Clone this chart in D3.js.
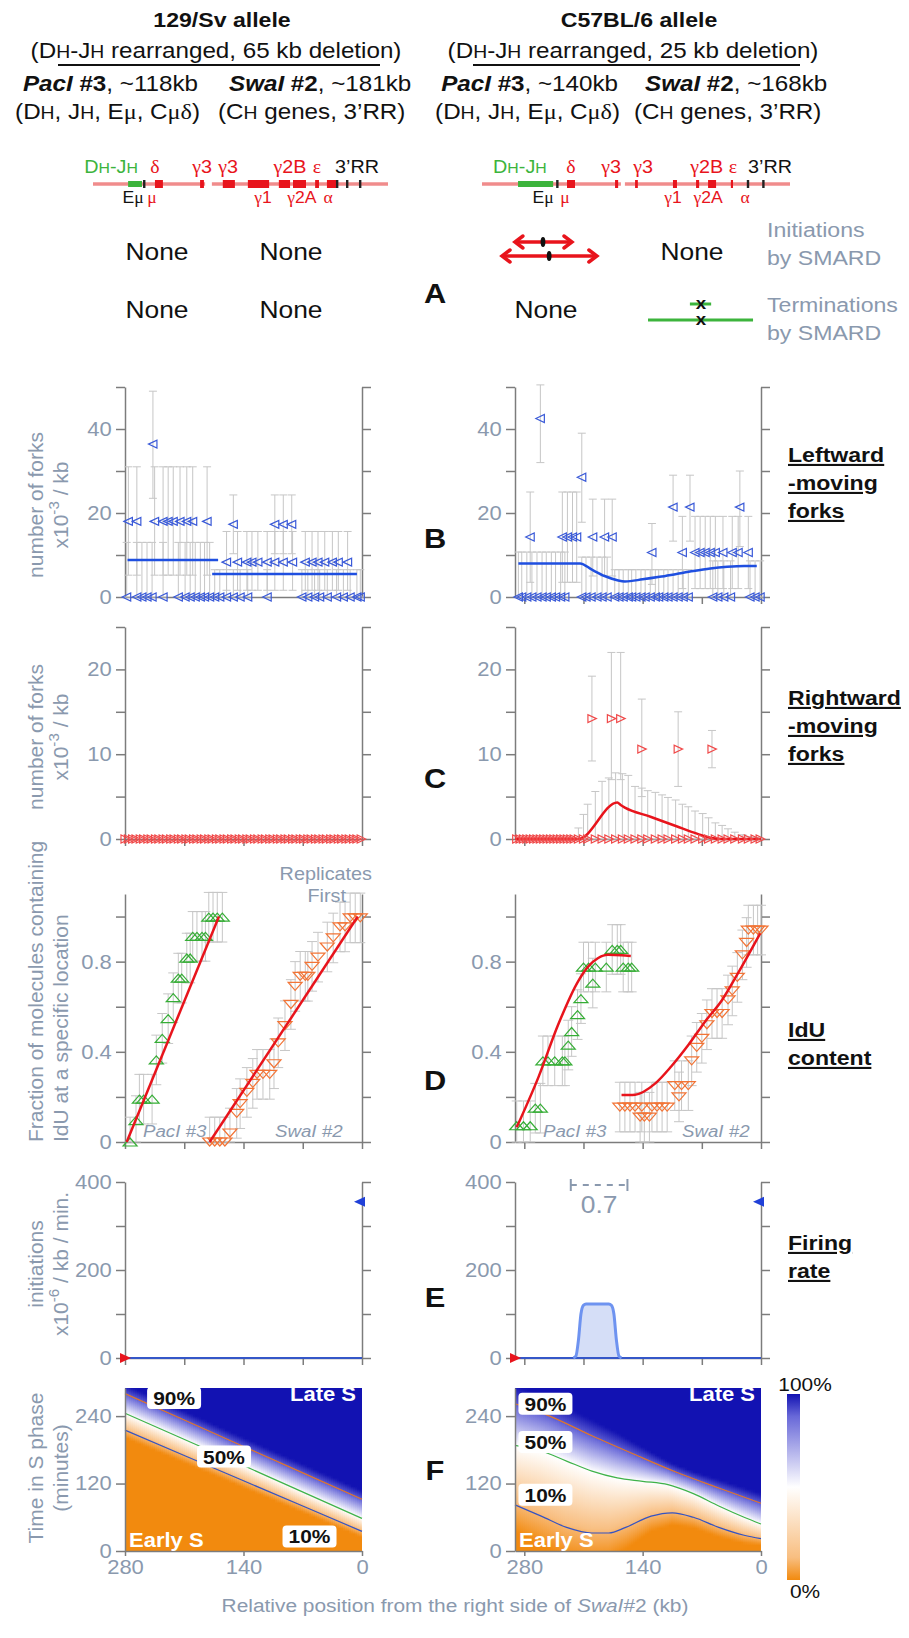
<!DOCTYPE html>
<html>
<head>
<meta charset="UTF-8" />
<title>SMARD replication profiles</title>
<style>
  body { margin: 0; background: #fff; }
  svg { display: block; }
</style>
</head>
<body>
<script src="https://cdn.jsdelivr.net/npm/d3@7/dist/d3.min.js"></script>
<script>
// ---------- data ----------
// x positions are kb from the right side of SwaI#2 (axis runs right to left)
var leftKbMax = 280, rightKbMax = 291;

// B: leftward-moving forks, groups of points sharing value and error bar
var bLeftGroups = [
  {v: 0,    lo: 0,    hi: 13,   kb: [278,266,260,254,248,235,217,209,203,197,191,186,180]},
  {v: 0,    lo: 0,    hi: 6.5,  kb: [174,168,160,152,144,135,112,71,64,56,50,41,30,22,14,6,2]},
  {v: 18,   lo: 5.2,  hi: 31,   kb: [276,266,245,235,229,223,215,207,200,183]},
  {v: 36.4, lo: 23.5, hi: 49,   kb: [247]},
  {v: 17.3, lo: 10.3, hi: 24.3, kb: [152,103,93,83]},
  {v: 8.3,  lo: 1.6,  hi: 15.6, kb: [160,147,136,130,123,112,103,93,82,67,59,52,44,35,28,17]}
];
var bLeftMean = [[[277,8.8],[170,8.8]], [[177,5.5],[6,5.5]]];

var bRightGroups = [
  {v: 42.5, lo: 32,   hi: 50.5, kb: [261]},
  {v: 14.3, lo: 3.5,  hi: 25,   kb: [273,235,229,223,218]},
  {v: 14.3, lo: 5,    hi: 23.3, kb: [199,185,176]},
  {v: 28.5, lo: 17.8, hi: 39,   kb: [212]},
  {v: 10.6, lo: 3,    hi: 17.5, kb: [129]},
  {v: 10.6, lo: 2,    hi: 19.2, kb: [93,78,72,66,60,54,45,34,27,15]},
  {v: 21.4, lo: 13.3, hi: 29,   kb: [104,84]},
  {v: 21.4, lo: 12,   hi: 30,   kb: [25]},
  {v: 0,    lo: 0,    hi: 10.7, kb: [287,283,277,271,265,259,254,248,243,237,232]},
  {v: 0,    lo: 0,    hi: 9.5,  kb: [212,207,201,194,188,182]},
  {v: 0,    lo: 0,    hi: 6.5,  kb: [173,168,163,157,153,148,142,137,131,125,121,115,110,104,98,92,86]},
  {v: 0,    lo: 0,    hi: 8.6,  kb: [57,51,44,36,13,7,1]}
];
var bRightMean = [[287,8.0],[214,8.0],[200,6.5],[185,5.0],[170,4.0],[161,3.7],[140,4.2],[120,4.8],[100,5.5],[80,6.2],[60,6.8],[40,7.2],[20,7.4],[5,7.4]];

// C: rightward-moving forks
var cLeftKb = [280,276,271,267,262,258,253,249,244,240,235,231,226,222,217,213,208,204,199,195,190,186,181,177,172,168,163,159,154,150,145,141,136,132,127,123,118,114,109,105,100,96,91,87,82,78,73,69,64,60,55,51,46,42,37,33,28,24,19,15,10,6,1];
var cRightGroups = [
  {v: 14.2, lo: 9.2, hi: 19.2, kb: [200]},
  {v: 14.2, lo: 7,   hi: 22,   kb: [177,166]},
  {v: 10.6, lo: 5,   hi: 16.5, kb: [141]},
  {v: 10.6, lo: 6.2, hi: 15,   kb: [98]},
  {v: 10.6, lo: 8.4, hi: 12.8, kb: [58]}
];
// zero-valued points: [kb, upper error]
var cRightZero = [[289,0],[285,0],[281,0],[277,0],[273,0],[269,0],[265,0],[261,0],[257,0],[253,0],[249,0],[245,0],[241,0],[237,0],[233,0],[229,0],[225,0],[221,0],
  [216,1.3],[210,2.9],[205,4.1],[196,5.6],[188,6.8],[180,7.2],[172,7.8],[164,7.7],[157,7.5],[149,6.2],[141,6.0],[134,5.7],[125,5.5],[117,5.2],[110,4.9],[101,4.6],
  [93,4.1],[86,3.8],[78,3.3],[69,3.0],[62,2.5],[54,1.9],[46,1.6],[39,1.2],[31,0.8],[22,0.5],[15,0.3],[7,0.2],[1,0.1]];
var cRightMean = [[291,0],[216,0],[170,4.3],[166,4.0],[161,3.7],[130,2.6],[100,1.5],[75,0.6],[60,0.15],[45,0],[0,0]];

// D: IdU content, [kb, fraction]
var dErr = 0.11;
var dLeftPac = [[274,0],[267,0.095],[263,0.19],[258,0.19],[248,0.19],[243,0.364],[236,0.46],[229,0.547],[223,0.64],[217,0.727],[213,0.727],[207,0.816],[203,0.816],[200,0.912],[195,0.912],[189,0.912],[185,0.912],[181,0.997],[176,0.997],[171,0.997],[165,0.997]];
var dLeftSwa = [[180,0],[174,0],[168,0],[162,0],[156,0.04],[148,0.127],[144,0.17],[136,0.22],[129,0.26],[124,0.30],[117,0.30],[109,0.30],[104,0.347],[99,0.44],[91,0.516],[84,0.61],[79,0.69],[73,0.735],[67,0.735],[64,0.735],[59,0.779],[52,0.82],[41,0.865],[34,0.905],[26,0.954],[20,0.954],[14,0.994],[8,0.994],[2,0.994]];
var dLeftFitPac = [[278,0],[169,1.0]];
var dLeftFitSwa = [[180,0],[5,1.0]];
var dRightPac = [[289,0.072],[281,0.072],[273,0.072],[267,0.15],[261,0.15],[258,0.36],[252,0.36],[244,0.36],[235,0.36],[232,0.36],[228,0.43],[224,0.49],[217,0.565],[213,0.636],[210,0.776],[204,0.776],[199,0.705],[196,0.776],[183,0.776],[176,0.854],[170,0.854],[166,0.854],[163,0.776],[157,0.776],[153,0.776]];
var dRightSwa = [[167,0.155],[161,0.155],[155,0.155],[149,0.155],[141,0.155],[143,0.11],[138,0.11],[132,0.11],[129,0.155],[123,0.155],[117,0.155],[111,0.155],[102,0.25],[94,0.25],[86,0.25],[97,0.2],[82,0.36],[76,0.42],[70,0.46],[64,0.52],[58,0.57],[52,0.57],[46,0.57],[39,0.63],[34,0.67],[28,0.73],[22,0.83],[17,0.885],[15,0.94],[9,0.94],[4,0.94],[0,0.94]];
var dRightFitPac = [[289,0.065],[263,0.29],[240,0.52],[216,0.715],[204,0.78],[193,0.815],[181,0.83],[165,0.828],[154,0.825]];
var dRightFitSwa = [[165,0.208],[149,0.21],[125,0.26],[106,0.336],[86,0.43],[66,0.535],[46,0.63],[27,0.75],[1,0.925]];

// E: firing rate (x10^-6 / kb / min)
var eLeftRate = [[280,0],[0,0]];
var eRightRate = [[291,0],[222,0],[219,4],[216,40],[213,100],[210,120],[207,123],[180,123],[177,120],[174,100],[171,40],[168,4],[165,0],[0,0]];
var eEndRate = 355;          // blue marker on right axis
var eInterval = [225, 158];  // dashed bracket above the peak
var eIntervalLabel = "0.7";

// F: replication-time contours, [kb, minutes]
var fLeft10 = [[280,215],[140,125],[0,35]];
var fLeft50 = [[280,245],[140,152],[0,58]];
var fLeft90 = [[280,280],[140,186],[0,92]];
var fRight10 = [[291,82],[260,62],[230,42],[200,32],[180,32],[160,42],[130,62],[105,68],[80,60],[50,42],[20,28],[0,22]];
var fRight50 = [[291,188],[260,178],[230,160],[200,142],[170,130],[140,124],[110,118],[80,102],[50,80],[20,60],[0,48]];
var fRight90 = [[291,262],[250,240],[200,205],[150,172],[100,140],[50,112],[0,85]];

// gene maps (0-100 map units)
var mapLeft = {
  line: [[0,38],[40.3,100]], green: [[11.9,16.6]],
  red: [[21,23.7],[36.3,37.6],[44,48.1],[52.5,59.7],[63,66.8],[67.8,72.2],[75.3,76.6],[79.3,82.4]],
  black: [17.3,82.7,86.1,90.5],
  above: [[6.1,"DH-JH"],[21,"δ"],[37,"γ3"],[45.8,"γ3"],[66.8,"γ2B"],[75.9,"ε"],[89.5,"3’RR"]],
  below: [[13.6,"Eμ"],[20,"μ"],[57.6,"γ1"],[70.8,"γ2A"],[79.7,"α"]]
};
var mapRight = {
  line: [[0,45.1],[46.4,100]], green: [[11.7,23.1]],
  red: [[27.6,30.2],[43.2,44.2],[49.7,50.6],[62,63.3],[69.5,70.5],[73.4,76],[80.8,81.5]],
  black: [24.4,86.3,91.3],
  above: [[12.3,"DH-JH"],[28.9,"δ"],[41.9,"γ3"],[52.3,"γ3"],[73,"γ2B"],[81.5,"ε"],[93.5,"3’RR"]],
  below: [[19.8,"Eμ"],[26.9,"μ"],[62,"γ1"],[73.4,"γ2A"],[85.4,"α"]]
};
// panel A (right allele): [from, to, origin] in map units
var initiations = [[10.7,29.2,19.8],[6.5,37.3,21.8]];
var terminations = [[67.5,74.4,71.1],[53.9,88,71.1]];

// ---------- drawing ----------
var FONT = '"Liberation Sans", Arial, sans-serif';
var SERIF = '"Liberation Serif", "Times New Roman", serif';
var GREY = "#8a99ae", AXIS = "#7c7c7c", RED = "#e8141c";
var SX = 1.1;

var svg = d3.select("body").append("svg").attr("width", 909).attr("height", 1638)
  .style("font-family", FONT);
var defs = svg.append("defs");

// text helper: parts = [[string, flags]], flags: b bold, i italic, n normal, s small, g serif, ^ superscript
function txt(g, x, y, parts, o) {
  o = o || {};
  var size = o.size || 20;
  var t = g.append("text")
    .attr("transform", "translate(" + x + "," + y + ")" + (o.rot ? " rotate(-90)" : " scale(" + SX + ",1)"))
    .attr("text-anchor", o.anchor || "middle")
    .style("font-size", size + "px")
    .style("fill", o.fill || "#111");
  if (o.bold) t.style("font-weight", "bold");
  if (o.italic) t.style("font-style", "italic");
  if (o.underline) t.style("text-decoration", "underline");
  if (typeof parts === "string") parts = [[parts]];
  var shift = 0;
  parts.forEach(function (p) {
    var s = t.append("tspan").text(p[0]);
    var f = p[1] || "";
    var target = f.indexOf("^") >= 0 ? -0.42 * size : 0;
    if (target - shift) s.attr("dy", target - shift);
    shift = target;
    if (f.indexOf("^") >= 0) s.style("font-size", "0.72em");
    if (f.indexOf("s") >= 0) s.style("font-size", "0.8em");
    if (f.indexOf("b") >= 0) s.style("font-weight", "bold");
    if (f.indexOf("n") >= 0) s.style("font-weight", "normal");
    if (f.indexOf("i") >= 0) s.style("font-style", "italic");
    if (f.indexOf("g") >= 0) s.style("font-family", SERIF);
    if (f.indexOf("r") >= 0) s.style("fill", RED);
    if (f.indexOf("k") >= 0) s.style("fill", "#111");
  });
  return t;
}

// ----- header -----
var hdr = svg.append("g");
function header(c) {
  txt(hdr, c.title[0], 27, c.title[1], {size: 21, bold: true});
  txt(hdr, c.sub[0], 58, [["(D"],["H","s"],["-J"],["H","s"],[" rearranged, " + c.sub[1] + " deletion)"]], {size: 22});
  hdr.append("line").attr("x1", c.rule[0]).attr("x2", c.rule[1]).attr("y1", 65).attr("y2", 65)
    .attr("stroke", "#111").attr("stroke-width", 2);
  txt(hdr, c.pac[0], 91, [["PacI","bi"],[" #3","b"],[", ~" + c.pac[1]]], {size: 22, anchor: "end"});
  txt(hdr, c.swa[0], 91, [["SwaI","bi"],[" #2","b"],[", ~" + c.swa[1]]], {size: 22, anchor: "start"});
  txt(hdr, c.pac[0] + 2, 119, [["(D"],["H","s"],[", J"],["H","s"],[", E"],["μ","g"],[", C"],["μδ","g"],[")"]], {size: 22, anchor: "end"});
  txt(hdr, c.swa[0] - 11, 119, [["(C"],["H","s"],[" genes, 3’RR)"]], {size: 22, anchor: "start"});
}
header({title: [222, "129/Sv allele"], sub: [216, "65 kb"], rule: [58, 380], pac: [198, "118kb"], swa: [229, "181kb"]});
header({title: [639, "C57BL/6 allele"], sub: [633, "25 kb"], rule: [473, 800], pac: [618, "140kb"], swa: [645, "168kb"]});

// ----- gene maps -----
function labelParts(str, colour) {
  if (str === "DH-JH") return [["D"],["H","s"],["-J"],["H","s"]];
  var parts = [];
  str.split("").forEach(function (ch) {
    var greek = /[α-ωμ]/.test(ch);
    var fl = (greek ? "g" : "") + (colour === "k" ? "k" : "r");
    if (parts.length && parts[parts.length - 1][1] === fl) parts[parts.length - 1][0] += ch;
    else parts.push([ch, fl]);
  });
  return parts;
}
function geneMap(range, m) {
  var s = d3.scaleLinear().domain([0, 100]).range(range);
  var g = svg.append("g");
  var ly = 184;
  m.line.forEach(function (d) {
    g.append("line").attr("x1", s(d[0])).attr("x2", s(d[1])).attr("y1", ly).attr("y2", ly)
      .attr("stroke", "#f08c8c").attr("stroke-width", 3.5);
  });
  g.selectAll("rect.gr").data(m.green).join("rect").attr("x", function (d) { return s(d[0]); })
    .attr("width", function (d) { return s(d[1]) - s(d[0]); }).attr("y", ly - 3).attr("height", 6).attr("fill", "#3cb43c");
  g.selectAll("rect.rd").data(m.red).join("rect").attr("x", function (d) { return s(d[0]); })
    .attr("width", function (d) { return Math.max(2, s(d[1]) - s(d[0])); }).attr("y", ly - 4).attr("height", 8).attr("fill", RED);
  g.selectAll("rect.bk").data(m.black).join("rect").attr("x", function (d) { return s(d) - 1; })
    .attr("width", 2.4).attr("y", ly - 4).attr("height", 8).attr("fill", "#222");
  m.above.forEach(function (d) {
    var col = d[1] === "DH-JH" ? "#3cb43c" : (d[1] === "3’RR" ? "#111" : RED);
    txt(g, s(d[0]), 173, labelParts(d[1], col === "#111" ? "k" : "r"), {size: 18, fill: col});
  });
  m.below.forEach(function (d) {
    var black = d[1] === "Eμ";
    txt(g, s(d[0]), 203, labelParts(d[1], black ? "k" : "r"), {size: 16, fill: black ? "#111" : RED});
  });
  return s;
}
geneMap([93, 388], mapLeft);
var mapR = geneMap([482, 790], mapRight);

// ----- panel A -----
var pa = svg.append("g");
txt(pa, 157, 260, "None", {size: 24});
txt(pa, 291, 260, "None", {size: 24});
txt(pa, 157, 318, "None", {size: 24});
txt(pa, 291, 318, "None", {size: 24});
txt(pa, 692, 260, "None", {size: 24});
txt(pa, 546, 318, "None", {size: 24});
txt(pa, 767, 237, "Initiations", {size: 21, anchor: "start", fill: GREY});
txt(pa, 767, 265, "by SMARD", {size: 21, anchor: "start", fill: GREY});
txt(pa, 767, 312, "Terminations", {size: 21, anchor: "start", fill: GREY});
txt(pa, 767, 340, "by SMARD", {size: 21, anchor: "start", fill: GREY});
initiations.forEach(function (d, i) {
  var yy = [242, 256][i], a = mapR(d[0]), b = mapR(d[1]);
  pa.append("line").attr("x1", a + 1).attr("x2", b - 1).attr("y1", yy).attr("y2", yy)
    .attr("stroke", RED).attr("stroke-width", 3.5);
  pa.append("path").attr("d", "M" + (a + 8) + "," + (yy - 6) + "L" + a + "," + yy + "L" + (a + 8) + "," + (yy + 6) +
    "M" + (b - 8) + "," + (yy - 6) + "L" + b + "," + yy + "L" + (b - 8) + "," + (yy + 6))
    .attr("fill", "none").attr("stroke", RED).attr("stroke-width", 3.5).attr("stroke-linecap", "round");
  pa.append("ellipse").attr("cx", mapR(d[2])).attr("cy", yy).attr("rx", 2.4).attr("ry", 5).attr("fill", "#111");
});
terminations.forEach(function (d, i) {
  var yy = [304, 320][i];
  pa.append("line").attr("x1", mapR(d[0])).attr("x2", mapR(d[1])).attr("y1", yy).attr("y2", yy)
    .attr("stroke", "#3cb43c").attr("stroke-width", 3);
  txt(pa, mapR(d[2]), yy + 5, "x", {size: 17, bold: true});
});

// ----- panel frames -----
var LX = [125, 362], RX = [515, 761];
var rows = {
  B: {y: [597, 387], max: 50, ticks: [0,10,20,30,40,50], labels: [0,20,40]},
  C: {y: [839, 627], max: 25, ticks: [0,5,10,15,20,25], labels: [0,10,20]},
  D: {y: [1142, 894], max: 1.1, ticks: [0,0.2,0.4,0.6,0.8,1], labels: [0,0.4,0.8]},
  E: {y: [1358, 1182], max: 400, ticks: [0,100,200,300,400], labels: [0,200,400]},
  F: {y: [1551, 1388], max: 290, ticks: [0,120,240], labels: [0,120,240]}
};
var xTicks = [280,210,140,70,0];

function frame(xr, kbMax, row, o) {
  return {
    g: svg.append("g"),
    x: d3.scaleLinear().domain([kbMax, 0]).range(xr),
    y: d3.scaleLinear().domain([0, row.max]).range(row.y),
    xr: xr, row: row, o: o || {}
  };
}
function styleAxis(a) {
  a.attr("font-family", null).attr("font-size", null);
  a.selectAll(".domain, .tick line").attr("stroke", AXIS).attr("stroke-width", 1.5);
  a.selectAll(".tick text").attr("fill", GREY).style("font-size", "20px").attr("transform", "scale(" + SX + ",1)");
}
function axes(p) {
  var g = p.g.append("g"), row = p.row, o = p.o;
  var la = g.append("g").attr("transform", "translate(" + p.xr[0] + ",0)")
    .call(d3.axisLeft(p.y).tickValues(row.ticks).tickSizeInner(9).tickSizeOuter(0).tickPadding(3)
      .tickFormat(function (d) { return row.labels.indexOf(d) >= 0 ? d : ""; }));
  styleAxis(la);
  if (!o.noRight) {
    var ra = g.append("g").attr("transform", "translate(" + p.xr[1] + ",0)")
      .call(d3.axisRight(p.y).tickValues(row.ticks).tickSizeInner(9).tickSizeOuter(0).tickFormat(""));
    styleAxis(ra);
  }
  var ba = g.append("g").attr("transform", "translate(0," + row.y[0] + ")")
    .call(d3.axisBottom(p.x).tickValues(o.xTicks || []).tickSizeInner(o.xLabels ? 5 : 7).tickSizeOuter(0).tickPadding(4)
      .tickFormat(function (d) { return o.xLabels ? d : ""; }));
  styleAxis(ba);
}

function expand(groups) {
  var out = [];
  groups.forEach(function (gr) { gr.kb.forEach(function (k) { out.push([k, gr.v, gr.lo, gr.hi]); }); });
  return out;
}
function errorBars(p, pts, cap) {
  var g = p.g.append("g").attr("stroke", "#c6c6c6").attr("stroke-width", 1);
  pts.forEach(function (d) {
    if (d[3] <= d[2]) return;
    var xx = p.x(d[0]);
    g.append("line").attr("x1", xx).attr("x2", xx).attr("y1", p.y(d[2])).attr("y2", p.y(d[3]));
    [d[2], d[3]].forEach(function (v) {
      g.append("line").attr("x1", xx - cap).attr("x2", xx + cap).attr("y1", p.y(v)).attr("y2", p.y(v));
    });
  });
}
var SH = {
  left: "M-4.5,0L4,-4L4,4Z",
  right: "M4.5,0L-4,-4L-4,4Z",
  up: "M-7,4L0,-4L7,4Z",
  down: "M-7,-4L0,4L7,-4Z"
};
function markers(p, pts, shape, col) {
  p.g.append("g").selectAll("path").data(pts).join("path")
    .attr("d", shape)
    .attr("transform", function (d) { return "translate(" + p.x(d[0]) + "," + p.y(d[1]) + ")"; })
    .attr("fill", "none").attr("stroke", col).attr("stroke-width", 1.2);
}
function curve(p, data, col, w, c) {
  p.g.append("path").datum(data)
    .attr("d", d3.line().x(function (d) { return p.x(d[0]); }).y(function (d) { return p.y(d[1]); }).curve(c || d3.curveLinear))
    .attr("fill", "none").attr("stroke", col).attr("stroke-width", w).attr("stroke-linejoin", "round");
}

var BLUE = "#3a5ad8", MRED = "#f04a4a", GREEN = "#36ad36", ORANGE = "#f27436";
var LINEBLUE = "#1f4fe0", LINERED = "#e8141c";

// ----- B -----
var bL = frame(LX, leftKbMax, rows.B);
axes(bL);
var bLp = expand(bLeftGroups);
errorBars(bL, bLp, 4);
bLeftMean.forEach(function (seg) { curve(bL, seg, LINEBLUE, 2.5); });
markers(bL, bLp, SH.left, BLUE);

var bR = frame(RX, rightKbMax, rows.B, {xTicks: xTicks});
axes(bR);
var bRp = expand(bRightGroups);
errorBars(bR, bRp, 4);
curve(bR, bRightMean, LINEBLUE, 2.5, d3.curveMonotoneX);
markers(bR, bRp, SH.left, BLUE);

// ----- C -----
var cL = frame(LX, leftKbMax, rows.C, {xTicks: xTicks});
axes(cL);
markers(cL, cLeftKb.map(function (k) { return [k, 0]; }), SH.right, MRED);

var cR = frame(RX, rightKbMax, rows.C, {xTicks: xTicks});
axes(cR);
var cRp = expand(cRightGroups).concat(cRightZero.map(function (d) { return [d[0], 0, 0, d[1]]; }));
errorBars(cR, cRp, 4);
curve(cR, cRightMean, LINERED, 2.5, d3.curveMonotoneX);
markers(cR, cRp, SH.right, MRED);

// ----- D -----
function withErr(pts) { return pts.map(function (d) { return [d[0], d[1], Math.max(0, d[1] - dErr), d[1] + dErr]; }); }
var dL = frame(LX, leftKbMax, rows.D, {xTicks: xTicks});
axes(dL);
errorBars(dL, withErr(dLeftPac), 5);
errorBars(dL, withErr(dLeftSwa), 5);
markers(dL, dLeftPac, SH.up, GREEN);
markers(dL, dLeftSwa, SH.down, ORANGE);
curve(dL, dLeftFitPac, LINERED, 2.5);
curve(dL, dLeftFitSwa, LINERED, 2.5);
txt(dL.g, 143, 1137, "PacI #3", {size: 17, anchor: "start", italic: true, fill: GREY});
txt(dL.g, 275, 1137, "SwaI #2", {size: 17, anchor: "start", italic: true, fill: GREY});
txt(dL.g, 372, 880, "Replicates", {size: 18, anchor: "end", fill: GREY});
txt(dL.g, 346, 902, "First", {size: 18, anchor: "end", fill: GREY});

var dR = frame(RX, rightKbMax, rows.D, {xTicks: xTicks});
axes(dR);
errorBars(dR, withErr(dRightPac), 5);
errorBars(dR, withErr(dRightSwa), 5);
markers(dR, dRightPac, SH.up, GREEN);
markers(dR, dRightSwa, SH.down, ORANGE);
curve(dR, dRightFitPac, LINERED, 2.5, d3.curveMonotoneX);
curve(dR, dRightFitSwa, LINERED, 2.5, d3.curveMonotoneX);
txt(dR.g, 543, 1137, "PacI #3", {size: 17, anchor: "start", italic: true, fill: GREY});
txt(dR.g, 682, 1137, "SwaI #2", {size: 17, anchor: "start", italic: true, fill: GREY});

// ----- E -----
function endMarkers(p) {
  p.g.append("path").attr("d", "M6,0L-5,-5L-5,5Z").attr("fill", "#e8141c")
    .attr("transform", "translate(" + p.x(p.x.domain()[0]) + "," + p.y(0) + ")");
  p.g.append("path").attr("d", "M-6,0L5,-5L5,5Z").attr("fill", "#2040d8")
    .attr("transform", "translate(" + (p.x(0) - 2) + "," + p.y(eEndRate) + ")");
}
var eL = frame(LX, leftKbMax, rows.E, {xTicks: xTicks});
axes(eL);
curve(eL, eLeftRate, "#3557c8", 2);
endMarkers(eL);

var eR = frame(RX, rightKbMax, rows.E, {xTicks: xTicks});
eR.g.append("path").datum(eRightRate)
  .attr("d", d3.area().x(function (d) { return eR.x(d[0]); }).y0(eR.y(0)).y1(function (d) { return eR.y(d[1]); }).curve(d3.curveMonotoneX))
  .attr("fill", "#d5def7");
axes(eR);
curve(eR, eRightRate.slice(0, 2).concat(eRightRate.slice(-2)), "#3557c8", 2);
curve(eR, eRightRate.slice(1, -1), "#6e93f0", 3, d3.curveMonotoneX);
endMarkers(eR);
var iy = 1185, ia = eR.x(eInterval[0]), ib = eR.x(eInterval[1]);
eR.g.append("line").attr("x1", ia).attr("x2", ib).attr("y1", iy).attr("y2", iy)
  .attr("stroke", GREY).attr("stroke-width", 2).attr("stroke-dasharray", "6,6");
[ia, ib].forEach(function (xx) {
  eR.g.append("line").attr("x1", xx).attr("x2", xx).attr("y1", iy - 6).attr("y2", iy + 6).attr("stroke", GREY).attr("stroke-width", 2);
});
txt(eR.g, (ia + ib) / 2, 1213, eIntervalLabel, {size: 24, fill: GREY});

// ----- F -----
var heatColor = d3.scaleLinear().domain([0, 0.12, 0.5, 0.88, 1])
  .range(["#f28a0e", "#f8be80", "#ffffff", "#6868d8", "#1212b2"]);
var heatId = 0;
function heat(p, c10, c50, c90) {
  function interp(c) { return d3.scaleLinear().domain(c.map(function (d) { return d[0]; })).range(c.map(function (d) { return d[1]; })); }
  var f10 = interp(c10), f50 = interp(c50), f90 = interp(c90);
  var tMax = p.row.max, w = 2, g = p.g.append("g");
  d3.range(p.xr[0], p.xr[1], w).forEach(function (px) {
    var kb = p.x.invert(px + w / 2);
    var a = f10(kb), b = f50(kb), c = f90(kb);
    var frac = d3.scaleLinear().domain([a - 0.45 * (b - a), a, b, c, c + 0.45 * (c - b)])
      .range([0, 0.1, 0.5, 0.9, 1]).clamp(true);
    var id = "hg" + (heatId++);
    var lg = defs.append("linearGradient").attr("id", id).attr("gradientUnits", "userSpaceOnUse")
      .attr("x1", 0).attr("x2", 0).attr("y1", p.y(0)).attr("y2", p.y(tMax));
    d3.range(0, tMax + 1, 5).forEach(function (t) {
      lg.append("stop").attr("offset", t / tMax).attr("stop-color", heatColor(frac(t)));
    });
    g.append("rect").attr("x", px).attr("y", p.y(tMax)).attr("width", Math.min(w + 0.6, p.xr[1] - px))
      .attr("height", p.y(0) - p.y(tMax)).attr("fill", "url(#" + id + ")");
  });
  curve(p, c90, "#e0762a", 1.2, d3.curveMonotoneX);
  curve(p, c50, "#3fb24a", 1.2, d3.curveMonotoneX);
  curve(p, c10, "#3553c2", 1.2, d3.curveMonotoneX);
}
function boxLabel(p, kb, t, s) {
  var g = p.g.append("g");
  var xx = p.x(kb), yy = p.y(t);
  g.append("rect").attr("x", xx - 27).attr("y", yy - 11).attr("width", 54).attr("height", 22).attr("rx", 4).attr("fill", "#fff");
  txt(g, xx, yy + 7, s, {size: 19, bold: true});
}
function fPanel(xr, kbMax, c10, c50, c90, lab) {
  var p = frame(xr, kbMax, rows.F, {xTicks: [280,140,0], xLabels: true, noRight: true});
  heat(p, c10, c50, c90);
  axes(p);
  boxLabel(p, lab[0][0], lab[0][1], "90%");
  boxLabel(p, lab[1][0], lab[1][1], "50%");
  boxLabel(p, lab[2][0], lab[2][1], "10%");
  txt(p.g, xr[1] - 6, p.y(266), "Late S", {size: 20, bold: true, anchor: "end", fill: "#fff"});
  txt(p.g, xr[0] + 4, p.y(8), "Early S", {size: 20, bold: true, anchor: "start", fill: "#fff"});
  return p;
}
fPanel(LX, leftKbMax, fLeft10, fLeft50, fLeft90, [[222,272],[163,168],[62,26]]);
fPanel(RX, rightKbMax, fRight10, fRight50, fRight90, [[255,262],[255,194],[255,100]]);

// colour bar
var cbar = defs.append("linearGradient").attr("id", "cbar").attr("x1", 0).attr("x2", 0).attr("y1", 1).attr("y2", 0);
[0, 0.12, 0.5, 0.88, 1].forEach(function (v) { cbar.append("stop").attr("offset", v).attr("stop-color", heatColor(v)); });
svg.append("rect").attr("x", 787).attr("y", 1394).attr("width", 13).attr("height", 186).attr("fill", "url(#cbar)");
txt(svg, 805, 1391, "100%", {size: 19});
txt(svg, 805, 1598, "0%", {size: 19});

// ----- axis titles -----
var ttl = svg.append("g");
function yTitle(l1, l2, cy, anchor) {
  txt(ttl, 43, cy, l1, {size: 21, rot: true, fill: GREY, anchor: anchor || "middle"});
  txt(ttl, 68, cy, l2, {size: 21, rot: true, fill: GREY, anchor: anchor || "middle"});
}
yTitle("number of forks", [["x10"],["-3","^"],[" / kb"]], 505);
yTitle("number of forks", [["x10"],["-3","^"],[" / kb"]], 737);
yTitle("Fraction of molecules containing", "IdU at a specific location", 1142, "start");
yTitle("initiations", [["x10"],["-6","^"],[" / kb / min."]], 1264);
yTitle("Time in S phase", "(minutes)", 1468);
txt(ttl, 455, 1612, [["Relative position from the right side of "],["SwaI","i"],["#2 (kb)"]], {size: 19, fill: GREY});

// panel letters and right-hand titles
[["A", 303], ["B", 548], ["C", 788], ["D", 1090], ["E", 1307], ["F", 1480]].forEach(function (d) {
  txt(ttl, 435, d[1], d[0], {size: 28, bold: true});
});
[[["Leftward", "-moving", "forks"], 462], [["Rightward", "-moving", "forks"], 705], [["IdU", "content"], 1037], [["Firing", "rate"], 1250]]
  .forEach(function (d) {
    d[0].forEach(function (s, i) {
      txt(ttl, 788, d[1] + i * 28, s, {size: 21, bold: true, underline: true, anchor: "start"});
    });
  });
</script>
</body>
</html>
